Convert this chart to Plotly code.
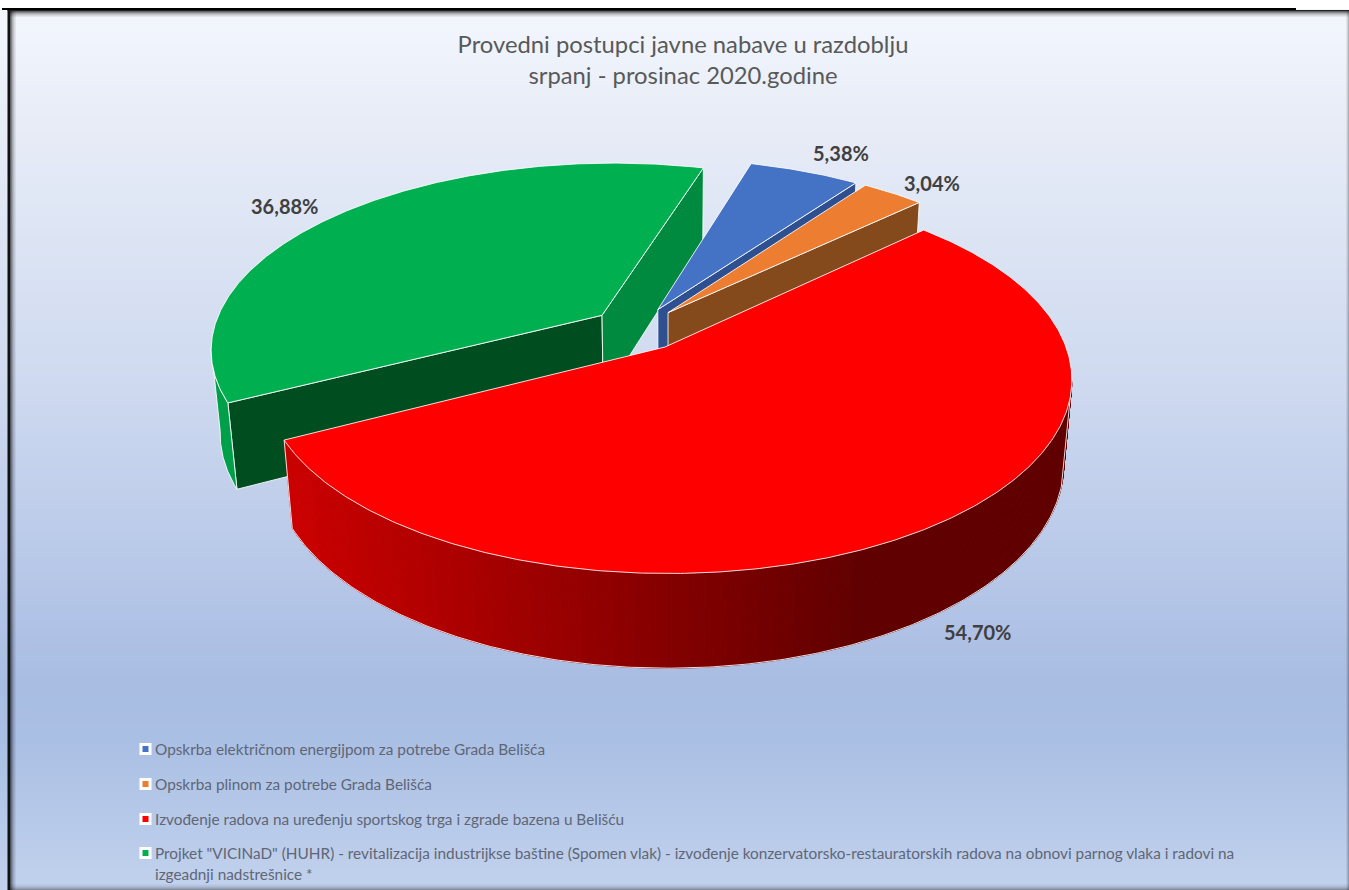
import numpy as np
import plotly.graph_objects as go

# ---------- data ----------
categories = [
    'Opskrba električnom energijpom za potrebe Grada Belišća',
    'Opskrba plinom za potrebe Grada Belišća',
    'Izvođenje radova na uređenju sportskog trga i zgrade bazena u Belišću',
    'Projket "VICINaD" (HUHR) - revitalizacija industrijkse baštine (Spomen vlak) - izvođenje konzervatorsko-restauratorskih radova na obnovi parnog vlaka i radovi na<br>izgeadnji nadstrešnice *',
]
values = [5.38, 3.04, 54.70, 36.88]
title_text = 'Provedni postupci javne nabave u razdoblju<br>srpanj - prosinac 2020.godine'

# ---------- style / layout ----------
W, H = 1349, 890
top_colors = ['#4472c4', '#ed7d31', '#ff0000', '#00b050']
outer_colors = ['#2f5090', '#854a1b', None, '#00a04a']
side_first = [None, None, None, '#004d20']          # wall along the slice's first radius
side_end = ['#2f5090', '#854a1b', None, '#008a40']  # wall along the slice's last radius
label_xy = [(841, 153), (932, 183), (977, 632), (284, 206)]
legend_y = [749, 784, 819, 853]
legend_line = 21

# projection of the disc
CX, CY = 665, 347
K, KY, M = 398, 188, 85
P, Q = 0.17, 0.02
RIM_SHIFT = 3
FIRST_ANGLE = 15.6
EXPLODE = 0.12


def project(u, v, z, rim=1.0):
    u, v = np.asarray(u, float), np.asarray(v, float)
    den = 1 + P * v + Q * z
    return CX + RIM_SHIFT * np.asarray(rim) + K * u / den, CY + (-KY * v + M * z) / den


shares = np.array(values) / sum(values) * 360
edges = FIRST_ANGLE + np.concatenate([[0], np.cumsum(shares)])
mids = (edges[:-1] + edges[1:]) / 2
red_mid = np.radians(mids[2])
off_ref = np.array([np.sin(red_mid), np.cos(red_mid)])

fig = go.Figure()

# background gradient
bg_y = np.arange(10, H + 1, 2)
fig.add_trace(go.Heatmap(
    x=[8, W], y=bg_y, z=[[yy, yy] for yy in bg_y], zmin=0, zmax=H, showscale=False, hoverinfo='skip',
    colorscale=[[0, '#f4f7fc'], [40 / H, '#f0f4fc'], [110 / H, '#e9edf7'], [200 / H, '#e0e7f5'],
                [380 / H, '#cfdaf0'], [680 / H, '#a9bde3'], [740 / H, '#aabfe4'], [1, '#c2d2ed']],
))


def poly(xs, ys, fill, line='rgba(255,255,255,0.85)', width=1):
    fig.add_trace(go.Scatter(
        x=np.asarray(xs), y=np.asarray(ys), mode='lines', fill='toself', fillcolor=fill,
        line=dict(color=line, width=width), hoverinfo='skip', showlegend=False))


def wall_red(x):
    t = np.clip((x - 290) / (860 - 290), 0, 1)
    return f'rgb({204 - 108 * t:.0f},0,0)'


for i in [3, 0, 1, 2]:
    a0, a1 = edges[i], edges[i + 1]
    m = np.radians(mids[i])
    off = EXPLODE * (np.array([np.sin(m), np.cos(m)]) - off_ref)
    th = np.radians(np.linspace(a0, a1, max(int((a1 - a0) * 2), 8)))
    u = off[0] + np.sin(th)
    v = off[1] + np.cos(th)
    # radial walls
    for ang, col in ((a0, side_first[i]), (a1, side_end[i])):
        if col:
            t = np.radians(ang)
            uu = np.array([off[0], off[0] + np.sin(t)])
            vv = np.array([off[1], off[1] + np.cos(t)])
            rim = np.array([0.0, 1.0])
            x0, y0 = project(uu, vv, 0, rim)
            x1, y1 = project(uu, vv, 1, rim)
            poly([x0[0], x0[1], x1[1], x1[0], x0[0]], [y0[0], y0[1], y1[1], y1[0], y0[0]], col)
    # outer wall (front facing part)
    vis = np.cos(th) < -P
    if vis.any():
        ut, vt = u[vis], v[vis]
        xt, yt = project(ut, vt, 0)
        xb, yb = project(ut, vt, 1)
        if i == 2:
            for j in range(0, len(xt) - 1):
                j1 = j + 1
                col = wall_red((xb[j] + xb[j1]) / 2)
                poly([xt[j], xt[j1], xb[j1], xb[j], xt[j]], [yt[j], yt[j1], yb[j1], yb[j], yt[j]], col, col, 1)
            poly(np.concatenate([xt[:1], xb, xt[-1:]]), np.concatenate([yt[:1], yb, yt[-1:]]),
                 'rgba(0,0,0,0)')
        elif outer_colors[i]:
            poly(np.concatenate([xt, xb[::-1], xt[:1]]), np.concatenate([yt, yb[::-1], yt[:1]]), outer_colors[i])
    # top face
    xr, yr = project(u, v, 0)
    xc, yc = project([off[0]], [off[1]], 0, [0.0])
    poly(np.concatenate([xc, xr, xc]), np.concatenate([yc, yr, yc]), top_colors[i])

# legend keys
for yy, col in zip(legend_y, top_colors):
    fig.add_trace(go.Scatter(x=[145.5], y=[yy], mode='markers', hoverinfo='skip', showlegend=False,
                             marker=dict(symbol='square', size=9, color=col, line=dict(color='white', width=3))))

annotations = []
for (x, y), v in zip(label_xy, values):
    annotations.append(dict(x=x, y=y, xref='x', yref='y', showarrow=False,
                            text=f'<b>{v:.2f}</b>'.replace('.', ',').replace('</b>', '%</b>'),
                            font=dict(family='Lato', size=20, color='#404040')))
for cat, yy in zip(categories, legend_y):
    for k, line in enumerate(cat.split('<br>')):
        annotations.append(dict(x=153, y=yy + k * legend_line, xref='x', yref='y', showarrow=False,
                                xanchor='left', text=line, font=dict(family='Lato', size=15.35, color='#5f6675')))

# frame
shapes = [dict(type='rect', x0=2, x1=1296, y0=8, y1=10, fillcolor='black', line_width=0, layer='above'),
          dict(type='rect', x0=7.5, x1=W, y0=10, y1=11, fillcolor='#222222', line_width=0, layer='above'),
          dict(type='rect', x0=7.5, x1=10, y0=10, y1=H, fillcolor='#111111', line_width=0, layer='above')]
for n, alpha in enumerate([0.6, 0.45, 0.3, 0.2, 0.12, 0.06]):
    shapes.append(dict(type='rect', x0=10, x1=W, y0=11 + n, y1=12 + n, fillcolor=f'rgba(0,0,0,{alpha})',
                       line_width=0, layer='above'))
    shapes.append(dict(type='rect', x0=10 + n, x1=11 + n, y0=11, y1=H, fillcolor=f'rgba(0,0,0,{alpha})',
                       line_width=0, layer='above'))
for n, alpha in enumerate([0.06, 0.14, 0.25]):
    shapes.append(dict(type='rect', x0=W - 3 + n, x1=W - 2 + n, y0=11, y1=H, fillcolor=f'rgba(0,0,0,{alpha})',
                       line_width=0, layer='above'))
for n, alpha in enumerate([0.03, 0.06, 0.1, 0.16, 0.24, 0.32]):
    shapes.append(dict(type='rect', x0=10, x1=W, y0=H - 6 + n, y1=H - 5 + n, fillcolor=f'rgba(0,0,0,{alpha})',
                       line_width=0, layer='above'))

fig.update_layout(
    width=W, height=H, margin=dict(l=0, r=0, t=0, b=0), paper_bgcolor='white', plot_bgcolor='white',
    showlegend=False,
    xaxis=dict(range=[0, W], visible=False, fixedrange=True),
    yaxis=dict(range=[H, 0], visible=False, fixedrange=True),
    title=dict(text=title_text, x=683 / W, xanchor='center', xref='paper', y=1 - 53 / H, yanchor='top',
               font=dict(family='Lato', size=23.8, color='#595959')),
    annotations=annotations, shapes=shapes,
)
fig.write_html('out.html', config={'displayModeBar': False},
               post_script="document.body.style.margin='0';document.body.style.overflow='hidden';")
